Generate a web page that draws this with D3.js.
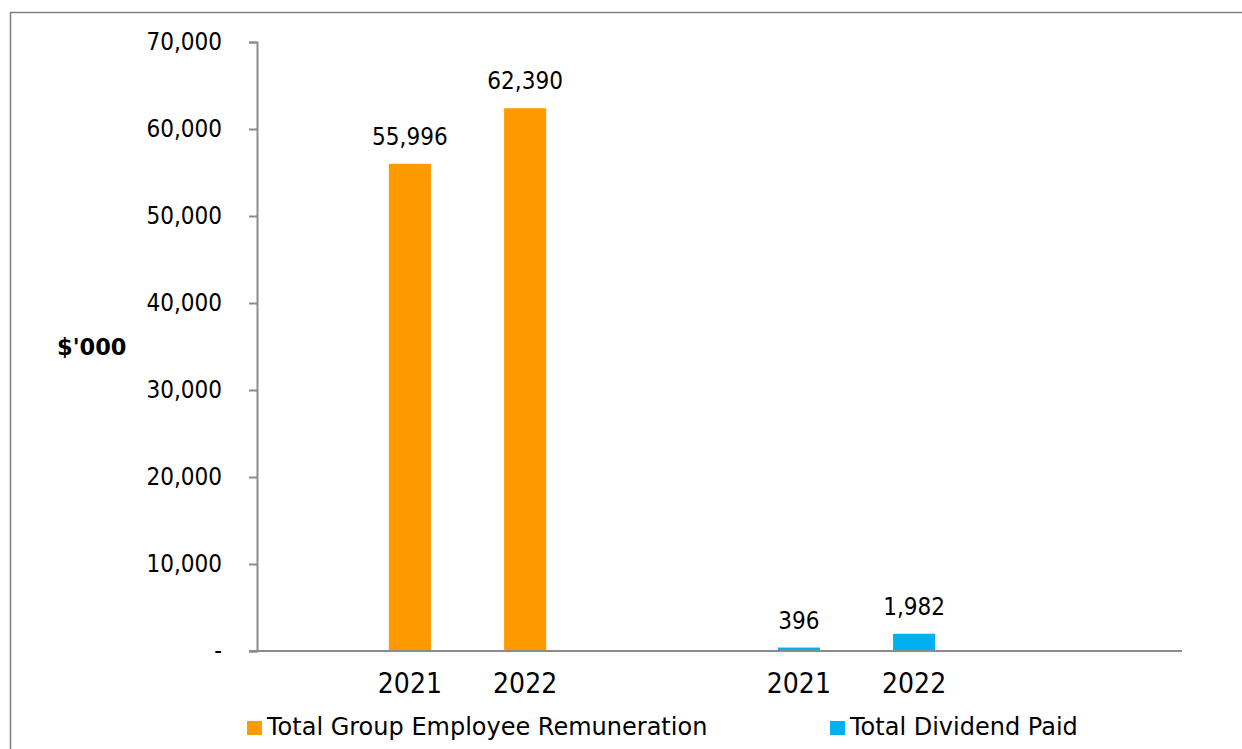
<!DOCTYPE html>
<html>
<head>
<meta charset="utf-8">
<script src="https://cdn.jsdelivr.net/npm/d3@7"></script>
<style>
  html, body { margin: 0; padding: 0; background: #fff; }
  svg { display: block; }
  text { font-family: "DejaVu Sans Condensed", "DejaVu Sans", sans-serif; fill: #000; }
  .wide { font-family: "DejaVu Sans", sans-serif; }
</style>
</head>
<body>
<svg id="chart" width="1242" height="749"></svg>
<script>
// Series and categories
const groups = ["Total Group Employee Remuneration", "Total Dividend Paid"];
const years = ["2021", "2022"];
const remuneration = [55996, 62390];
const dividend = [396, 1982];
const seriesColors = ["#FF9900", "#00B0F0"];
const yTicks = [0, 10000, 20000, 30000, 40000, 50000, 60000, 70000];
const yLabel = "$'000";

const rows = [
  ...years.map((yr, i) => ({ group: groups[0], year: yr, value: remuneration[i] })),
  ...years.map((yr, i) => ({ group: groups[1], year: yr, value: dividend[i] }))
];

const svg = d3.select("#chart");

// Outer frame
svg.append("rect")
  .attr("x", 10.5).attr("y", 12.5)
  .attr("width", 1260).attr("height", 760)
  .attr("fill", "none").attr("stroke", "#7f7f7f").attr("stroke-width", 1.5);

const plot = { left: 257, right: 1182, top: 42, bottom: 651 };

const y = d3.scaleLinear().domain([0, 70000]).range([plot.bottom, plot.top]);

const x0 = d3.scaleBand().domain(groups)
  .range([plot.left, plot.right])
  .paddingInner(0.4).paddingOuter(0.389).align(0.31);

const x1 = d3.scaleBand().domain(years)
  .range([0, x0.bandwidth()])
  .paddingInner(0.635).paddingOuter(0.33);

const color = d3.scaleOrdinal().domain(groups).range(seriesColors);
const fmt = d3.format(",");

// Y axis
const yAxis = d3.axisLeft(y)
  .tickValues(yTicks)
  .tickSize(8)
  .tickPadding(27)
  .tickFormat(d => d === 0 ? "-" : fmt(d));

const gy = svg.append("g")
  .attr("transform", `translate(${plot.left},0)`)
  .call(yAxis);
gy.select(".domain").attr("stroke", "#8c8c8c").attr("stroke-width", 2);
gy.selectAll(".tick line").attr("stroke", "#8c8c8c").attr("stroke-width", 2);
gy.selectAll(".tick text")
  .style("font-size", "24px")
  .attr("fill", "#000");

// Bars
svg.append("g").selectAll("rect")
  .data(rows)
  .join("rect")
  .attr("x", d => x0(d.group) + x1(d.year))
  .attr("y", d => y(d.value))
  .attr("width", x1.bandwidth())
  .attr("height", d => y(0) - y(d.value))
  .attr("fill", d => color(d.group));

// X baseline
svg.append("line")
  .attr("x1", plot.left - 8).attr("x2", plot.right)
  .attr("y1", y(0)).attr("y2", y(0))
  .attr("stroke", "#8c8c8c").attr("stroke-width", 2);

// Value labels
svg.append("g").selectAll("text")
  .data(rows)
  .join("text")
  .attr("x", d => x0(d.group) + x1(d.year) + x1.bandwidth() / 2)
  .attr("y", d => y(d.value) - 19)
  .attr("text-anchor", "middle")
  .style("font-size", "24px")
  .text(d => fmt(d.value));

// Year labels under bars
svg.append("g").selectAll("text")
  .data(rows)
  .join("text")
  .attr("x", d => x0(d.group) + x1(d.year) + x1.bandwidth() / 2)
  .attr("y", 693)
  .attr("text-anchor", "middle")
  .style("font-size", "28px")
  .text(d => d.year);

// Y axis title
svg.append("text")
  .attr("class", "wide")
  .attr("x", 57).attr("y", 355)
  .style("font-size", "22.5px")
  .style("font-weight", "bold")
  .text(yLabel);

// Legend
const legendX = [247, 830];
const legend = svg.append("g").selectAll("g")
  .data(groups)
  .join("g")
  .attr("transform", (d, i) => `translate(${legendX[i]},721)`);
legend.append("rect")
  .attr("width", 15).attr("height", 14)
  .attr("fill", d => color(d));
legend.append("text")
  .attr("class", "wide")
  .attr("x", 20).attr("y", 14)
  .style("font-size", "24px")
  .text(d => d);
</script>
</body>
</html>
